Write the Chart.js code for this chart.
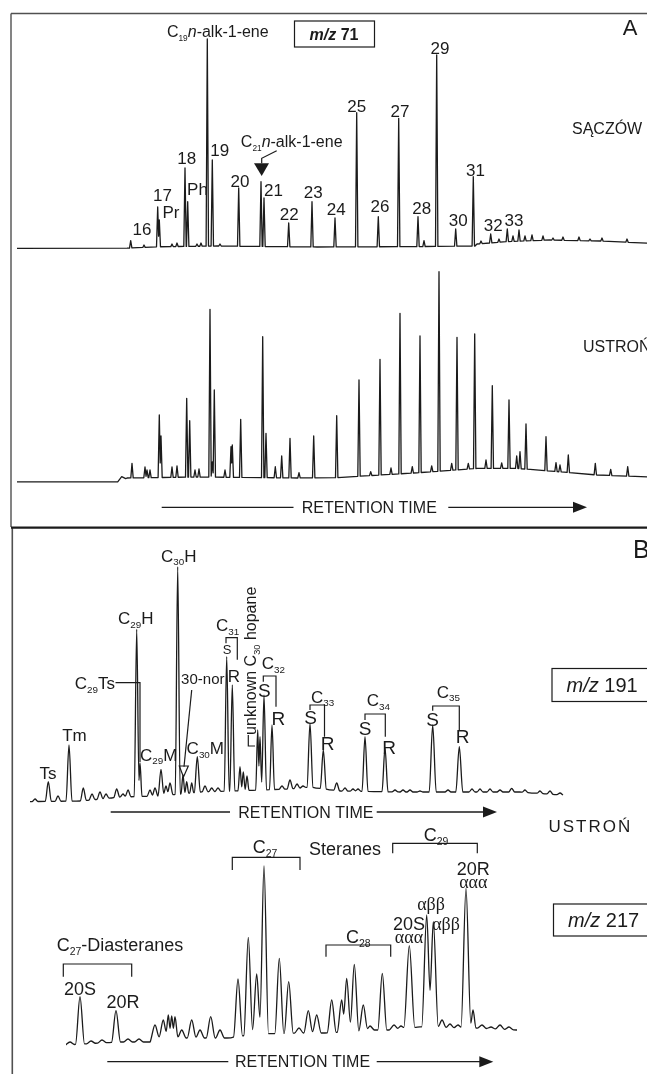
<!DOCTYPE html>
<html>
<head>
<meta charset="utf-8">
<script src="https://cdn.jsdelivr.net/npm/chart.js@4.4.1/dist/chart.umd.min.js"></script>
<style>
  html, body { margin: 0; padding: 0; background: #fff; }
  #wrap { position: relative; width: 647px; height: 1074px; overflow: hidden; }
  #wrap canvas { position: absolute; left: 0; top: 0; }
</style>
</head>
<body>
<div id="wrap">
  <canvas id="a1" width="647" height="1074"></canvas>
  <canvas id="a2" width="647" height="1074"></canvas>
  <canvas id="b1" width="647" height="1074"></canvas>
  <canvas id="b2" width="647" height="1074"></canvas>
</div>
<script>
// --- data: [retention, intensity, (optional peak half-width)] ---
// A, m/z 71, SĄCZÓW
var saczowPeaks = [
  [11.37, 4.65], [12.7, 2.5], [14.07, 21.5], [14.23, 15], [15.5, 3], [16.0, 3.5],
  [16.8, 41], [17.07, 24.15], [18.0, 3], [18.4, 3.5], [19.03, 105.5], [19.53, 45],
  [20.3, 3], [22.17, 31], [24.4, 34.15], [24.7, 26], [27.17, 13.5], [29.5, 24.15],
  [31.8, 16], [33.97, 68.65], [36.13, 16.65], [38.17, 65.85], [40.1, 16.65], [40.7, 4.65],
  [41.97, 97.5], [43.87, 10.5], [45.63, 36.65], [46.4, 4.5], [47.37, 8], [48.2, 5.5], [49.03, 10.5],
  [49.6, 7], [50.2, 10], [50.8, 7], [51.5, 7.5], [52.6, 7], [53.6, 6], [54.6, 6.5], [56.2, 6.5],
  [57.3, 5.5], [58.5, 6], [61, 5.5]
];
var saczowBase = [[0, 0.8], [11, 0.9], [14, 1.6], [20, 2.0], [30, 1.5], [40, 1.7], [45.8, 2],
  [46, 3], [49, 4.2], [53.3, 5], [58.3, 4.5], [63, 3.4]];

// A, m/z 71, USTROŃ
var ustronPeaks = [
  [10.47, 3.65, 0.4], [11.5, 10.35], [12.8, 8.5], [13.0, 7], [13.3, 7], [14.23, 34.5], [14.4, 24],
  [15.5, 8.5], [16.0, 9], [16.97, 42.85], [17.27, 31.65], [17.8, 7], [18.2, 7.5], [19.3, 87.35],
  [19.53, 11], [19.73, 47], [20.8, 7], [21.4, 18.65], [21.53, 19.5], [22.37, 32.35], [24.57, 73.65],
  [24.9, 25.35], [25.83, 8.65], [26.47, 14], [27.3, 22.85], [28.2, 5.65], [29.67, 24], [31.97, 34.15],
  [34.2, 52], [35.37, 6.15], [36.3, 62.35], [37.4, 8], [38.3, 85.35], [39.53, 8.65], [40.3, 74],
  [41.47, 9], [42.2, 106.15], [43.47, 10.35], [44.0, 73.35], [45.13, 10.35], [45.77, 75], [46.9, 12],
  [47.53, 49.15], [48.47, 10.5], [49.2, 42], [49.97, 14], [50.3, 16.15], [50.9, 30], [52.9, 23.65],
  [53.9, 10.65], [54.3, 9.5], [55.13, 14.5], [57.83, 10.35], [59.37, 7.35], [61.07, 8.65]
];
var ustronBase = [[0, 1.1], [10.3, 1.1], [11, 3], [18, 3.5], [28, 3], [32, 3.2], [40, 5.6],
  [46, 7.8], [50, 7.8], [54, 6.2], [58, 4.5], [63, 3.6]];

// B, m/z 191, hopanes
var hopanePeaks = [
  [0.5, 2.5], [1.83, 11.15], [2.8, 4], [3.9, 29.5], [5.33, 8], [6.2, 5], [7.0, 6], [7.6, 5],
  [8.67, 7.5], [9.3, 5], [9.8, 7], [10.67, 87.35, 0.25], [11.0, 20.5, 0.2], [12.0, 7], [12.5, 8],
  [13.1, 17.35], [13.6, 9], [14.0, 10.5], [14.77, 118.65, 0.25], [15.3, 14.5, 0.2],
  [15.67, 11.15, 0.2], [16.17, 10.5, 0.2], [16.73, 23.65], [17.5, 9], [18.17, 8], [18.8, 8],
  [19.67, 73.65, 0.25], [20.23, 59.5, 0.25], [21.0, 18.65, 0.2], [21.33, 16, 0.2], [21.7, 14, 0.2],
  [22.77, 37, 0.2], [23.0, 33.65, 0.2], [23.4, 54.5, 0.25], [24.2, 39.5, 0.25], [25.2, 9],
  [26.0, 12], [26.7, 10], [27.3, 9], [28.0, 40.35], [29.33, 27], [30.67, 10.5], [31.5, 8],
  [32.3, 7.5], [32.8, 7.5], [33.5, 33.65], [35.5, 28], [36.5, 7], [37.3, 7], [38.0, 7], [39.0, 6.5],
  [40.27, 39.5, 0.35], [41.8, 7], [42.93, 28.65, 0.35], [44.2, 7.5], [45.0, 7.5], [46.0, 7.5],
  [47.0, 7], [48.17, 7.85], [49.5, 7], [51.0, 6.5], [52.0, 6.5], [53.0, 5.5]
];
var hopaneBase = [[0, 1.2], [5, 1.5], [9, 3.5], [13, 4], [17, 6], [23, 7], [26, 7.5], [28, 8.5],
  [31, 6.5], [37, 6], [44, 6], [49, 6], [53.2, 4.5]];

// B, m/z 217, steranes
var steranePeaks = [
  [0.4, 2], [1.4, 24.65], [2.5, 2.5], [3.6, 3], [5.0, 17.65], [6.2, 3.5], [7.3, 3.5], [8.9, 10.5],
  [9.73, 13], [10.23, 15.5, 0.3], [10.57, 15, 0.3], [10.9, 14.65, 0.3], [11.57, 8], [12.57, 13],
  [13.4, 8], [14.47, 14.65], [15.4, 8], [17.2, 33.5], [18.23, 54.35], [19.07, 36], [19.8, 90],
  [21.33, 43.85], [22.27, 32.15], [23.3, 9], [24.23, 17.65], [25.07, 15.5], [26.57, 23], [27.57, 23],
  [28.07, 33.85], [28.83, 40.85], [29.73, 20.5], [30.4, 10], [31.63, 36.35], [32.8, 10.5], [33.5, 10],
  [34.33, 50.15, 0.55], [36.07, 65.5, 0.5], [36.73, 62.15, 0.5], [37.6, 13], [38.4, 11], [39.2, 10.5],
  [40.0, 78.85, 0.5], [40.7, 18, 0.3], [41.6, 10.5], [42.5, 9.5], [43.4, 10.5], [44.3, 9.5]
];
var steraneBase = [[0, 0.5], [3.4, 1.5], [5.5, 2], [8.4, 2], [8.6, 4], [16.1, 4], [19, 6], [23, 6.5],
  [25.9, 6.5], [30.7, 8], [32.2, 8], [35.4, 9.6], [38, 9], [41, 9], [45.1, 8]];

var FONT = '"Liberation Sans", Arial, sans-serif';
var SERIF = '"Liberation Serif", "Times New Roman", serif';
var INK = '#1b1b1b';

// peak labels, brackets and leader lines, in data units of each chart
var NOTES = {
  a1: {
    size: 17,
    labels: [
      ['16', 12.5, 10.5], ['17', 14.55, 27.5], ['Pr', 15.4, 19.15], ['18', 16.97, 45.85],
      ['Ph', 18.05, 30.5], ['19', 20.27, 50.15], ['20', 22.3, 34.75], ['21', 25.65, 30],
      ['22', 27.23, 18.15], ['23', 29.63, 29], ['24', 31.93, 20.35], ['25', 33.97, 72],
      ['26', 36.3, 21.85], ['27', 38.3, 69.4], ['28', 40.47, 20.85], ['29', 42.3, 101.25],
      ['30', 44.13, 15], ['31', 45.85, 40.15], ['32', 47.63, 12.5], ['33', 49.7, 15],
      ['C_{19}*n*-alk-1-ene', 20.08, 109.15, {size: 16, sub: 0.52}],
      ['C_{21}*n*-alk-1-ene', 27.47, 54.15, {size: 16, sub: 0.52}]
    ],
    paths: [
      {pts: [[25.97, 49.65], [24.47, 45.85], [24.47, 43.35]]},
      {pts: [[23.7, 43.35], [25.2, 43.35], [24.47, 37]], fill: true}
    ]
  },
  a2: {labels: []},
  b1: {
    size: 17,
    labels: [
      ['Ts', 1.8, 15.65], ['Tm', 4.45, 34.5], ['C_{29}H', 10.57, 92.85],
      ['C_{29}Ts', 8.5, 60.5, {align: 'right'}], ['C_{29}M', 12.87, 24.75], ['C_{30}H', 14.88, 124.25],
      ['30-nor', 17.28, 62.75, {size: 15}], ['C_{30}M', 17.53, 27.85],
      ['C_{31}', 19.77, 89.5], ['S', 19.7, 77.25, {size: 13}], ['R', 20.38, 64.25],
      ['unknown C_{30} hopane', 22.07, 71.6, {size: 16, rot: true}],
      ['C_{32}', 24.33, 70.35], ['S', 23.43, 57, {size: 19}], ['R', 24.83, 43.1, {size: 19}],
      ['C_{33}', 29.25, 53.65], ['S', 28.05, 43.25, {size: 19}], ['R', 29.75, 30.35, {size: 19}],
      ['C_{34}', 34.83, 51.85], ['S', 33.52, 38, {size: 19}], ['R', 35.92, 28.65, {size: 19}],
      ['C_{35}', 41.83, 56.15], ['S', 40.25, 42.5, {size: 19}], ['R', 43.25, 33.85, {size: 19}]
    ],
    brackets: [
      [19.6, 20.73, 83.15, 5.6, 22], [23.33, 24.6, 64, 5.7, 30.7], [28.0, 29.45, 49.5, 5, 31.7],
      [33.5, 35.53, 45, 6, 22.7], [40.27, 42.93, 49, 4.7, 24]
    ],
    paths: [
      {pts: [[8.55, 60.65], [11.0, 60.65], [11.0, 21]]},
      {pts: [[16.17, 57], [15.4, 18.65]]},
      {pts: [[14.93, 19], [15.83, 19], [15.35, 13.5]], closed: true},
      {pts: [[21.83, 34.5], [21.83, 29], [22.5, 29]]}
    ]
  },
  b2: {
    size: 18,
    labels: [
      ['C_{27}-Diasteranes', 5.4, 50.5], ['20S', 1.4, 28.85], ['20R', 5.7, 22.15],
      ['C_{27}', 19.9, 99.65], ['Steranes', 27.9, 98.85], ['C_{29}', 37, 105.5], ['C_{28}', 29.23, 54.65],
      ['20S', 34.3, 61.35], ['ααα', 34.3, 54.65, {serif: true}],
      ['αββ', 36.5, 71.35, {serif: true}], ['αββ', 38, 61, {serif: true}],
      ['20R', 40.73, 88.85], ['ααα', 40.73, 82.15, {serif: true}]
    ],
    brackets: [
      [-0.27, 6.57, 41, 12.7, 12.7], [16.63, 23.4, 94.35, 12.7, 12.7],
      [32.67, 41.13, 101.35, 10, 10], [26.0, 32.47, 50.5, 11.7, 11.7]
    ]
  }
};

function cross(a, b, c, d) {
  var s1 = (b.y - a.y) / (b.x - a.x), s2 = (d.y - c.y) / (d.x - c.x);
  var x = (c.y - s2 * c.x - a.y + s1 * a.x) / (s1 - s2);
  return {x: x, y: a.y + s1 * (x - a.x)};
}

// trace = baseline knots + a narrow triangle for every peak
function buildTrace(peaks, base, w) {
  function level(x) {
    for (var i = 1; i < base.length; i++) {
      if (x <= base[i][0]) {
        var a = base[i - 1], b = base[i];
        return a[1] + (b[1] - a[1]) * (x - a[0]) / (b[0] - a[0]);
      }
    }
    return base[base.length - 1][1];
  }
  var pts = [], bi = 0, prev = null;
  peaks.forEach(function (p) {
    var hw = p[2] || w, l = p[0] - hw, r = p[0] + hw;
    while (bi < base.length && base[bi][0] < l) {
      if (!pts.length || base[bi][0] > pts[pts.length - 1].x) pts.push({x: base[bi][0], y: base[bi][1]});
      bi++;
    }
    var foot = {x: l, y: level(l)}, apex = {x: p[0], y: p[1]};
    if (prev && prev.foot.x > l) {
      pts[pts.length - 1] = cross(prev.apex, prev.foot, foot, apex);
    } else {
      pts.push(foot);
    }
    pts.push(apex);
    var rf = {x: r, y: level(r)};
    pts.push(rf);
    prev = {apex: apex, foot: rf};
  });
  while (bi < base.length) {
    if (base[bi][0] > pts[pts.length - 1].x) pts.push({x: base[bi][0], y: base[bi][1]});
    bi++;
  }
  return pts;
}

function parseRich(s) {
  var out = [], re = /_\{([^}]*)\}|\*([^*]*)\*|([^_*]+)/g, m;
  while ((m = re.exec(s))) {
    if (m[1] !== undefined) out.push({t: m[1], sub: true});
    else if (m[2] !== undefined) out.push({t: m[2], it: true});
    else out.push({t: m[3]});
  }
  return out;
}

function drawRich(ctx, str, x, y, size, opt) {
  opt = opt || {};
  var segs = parseRich(str), w = 0;
  var fam = opt.serif ? SERIF : FONT, wt = opt.bold ? 'bold ' : '', sub = opt.sub || 0.58;
  function font(sg) {
    return ((sg.it || opt.italic) ? 'italic ' : '') + wt + (sg.sub ? size * sub : size) + 'px ' + fam;
  }
  ctx.letterSpacing = (opt.ls || 0) + 'px';
  segs.forEach(function (sg) { ctx.font = font(sg); sg.w = ctx.measureText(sg.t).width; w += sg.w; });
  var x0 = opt.align === 'right' ? x - w : opt.align === 'left' ? x : x - w / 2;
  var base = y + size * 0.36;
  ctx.textAlign = 'left';
  ctx.textBaseline = 'alphabetic';
  segs.forEach(function (sg) {
    ctx.font = font(sg);
    ctx.fillText(sg.t, x0, sg.sub ? base + size * 0.2 : base);
    x0 += sg.w;
  });
  ctx.letterSpacing = '0px';
}

var notesPlugin = {
  id: 'peakNotes',
  afterDatasetsDraw: function (chart) {
    var o = NOTES[chart.canvas.id];
    if (!o) return;
    var ctx = chart.ctx, X = chart.scales.x, Y = chart.scales.y;
    function px(v) { return X.getPixelForValue(v); }
    function py(v) { return Y.getPixelForValue(v); }
    ctx.save();
    ctx.fillStyle = INK;
    ctx.strokeStyle = INK;
    ctx.lineWidth = 1.2;
    (o.brackets || []).forEach(function (b) {
      var x1 = px(b[0]), x2 = px(b[1]), y = py(b[2]);
      ctx.beginPath();
      ctx.moveTo(x1, y + b[3]);
      ctx.lineTo(x1, y);
      ctx.lineTo(x2, y);
      ctx.lineTo(x2, y + b[4]);
      ctx.stroke();
    });
    (o.paths || []).forEach(function (p) {
      ctx.beginPath();
      p.pts.forEach(function (q, i) {
        if (i === 0) ctx.moveTo(px(q[0]), py(q[1])); else ctx.lineTo(px(q[0]), py(q[1]));
      });
      if (p.closed || p.fill) ctx.closePath();
      if (p.fill) ctx.fill(); else ctx.stroke();
    });
    (o.labels || []).forEach(function (l) {
      var opt = l[3] || {}, size = opt.size || o.size;
      if (opt.rot) {
        ctx.save();
        ctx.translate(px(l[1]), py(l[2]));
        ctx.rotate(-Math.PI / 2);
        drawRich(ctx, l[0], 0, 0, size, opt);
        ctx.restore();
      } else {
        drawRich(ctx, l[0], px(l[1]), py(l[2]), size, opt);
      }
    });
    ctx.restore();
  }
};

function seg(c, pts) {
  c.beginPath();
  pts.forEach(function (p, i) { if (i === 0) c.moveTo(p[0], p[1]); else c.lineTo(p[0], p[1]); });
  c.stroke();
}

function timeArrow(c, y, x0, x1, tx, x2, tip) {
  c.lineWidth = 1.3;
  seg(c, [[x0, y], [x1, y]]);
  seg(c, [[x2, y], [tip - 12, y]]);
  c.beginPath();
  c.moveTo(tip - 14, y - 5.5);
  c.lineTo(tip, y);
  c.lineTo(tip - 14, y + 5.5);
  c.closePath();
  c.fill();
  drawRich(c, 'RETENTION TIME', tx, y, 16, {align: 'left'});
}

// frames, panel letters, ion boxes and the retention-time arrows
var figurePlugin = {
  id: 'figure',
  afterDraw: function (chart) {
    var c = chart.ctx;
    c.save();
    c.fillStyle = INK;
    c.strokeStyle = '#505050';
    c.lineWidth = 1.4;
    seg(c, [[11, 13.5], [647, 13.5]]);
    seg(c, [[11, 13.5], [11, 527]]);
    c.lineWidth = 1.6;
    seg(c, [[12.3, 527], [12.3, 1074]]);
    c.strokeStyle = INK;
    c.lineWidth = 2.4;
    seg(c, [[11, 527.6], [647, 527.6]]);

    drawRich(c, 'A', 630, 27.5, 22);
    drawRich(c, 'B', 633, 549, 25, {align: 'left'});

    c.lineWidth = 1.2;
    c.strokeRect(294.5, 21, 80, 26);
    drawRich(c, '*m/z* 71', 334, 34, 16, {bold: true});
    c.strokeRect(552, 668.5, 100, 33);
    drawRich(c, '*m/z* 191', 566.5, 685, 20, {align: 'left'});
    c.strokeRect(553.5, 904, 100, 32);
    drawRich(c, '*m/z* 217', 568, 920, 20, {align: 'left'});

    drawRich(c, 'SĄCZÓW', 572, 128, 16, {align: 'left'});
    drawRich(c, 'USTROŃ', 583, 346, 16, {align: 'left'});
    drawRich(c, 'USTROŃ', 548.5, 826, 17, {align: 'left', ls: 2});

    c.strokeStyle = INK;
    timeArrow(c, 507.3, 161.7, 293.5, 301.7, 448.3, 587);
    timeArrow(c, 812, 110.7, 230, 238.3, 376.7, 497);
    timeArrow(c, 1061.7, 107.3, 228.3, 235, 376.7, 493.3);
    c.restore();
  }
};

function makeChart(id, peaks, base, w, pad, xMax, yMax, smooth, extra) {
  return new Chart(document.getElementById(id), {
    type: 'line',
    data: {
      datasets: [{
        data: buildTrace(peaks, base, w),
        borderColor: INK,
        borderWidth: 1.3,
        borderJoinStyle: 'round',
        pointRadius: 0,
        tension: 0,
        cubicInterpolationMode: smooth ? 'monotone' : 'default',
        fill: false
      }]
    },
    options: {
      responsive: false,
      animation: false,
      events: [],
      layout: {padding: pad},
      plugins: {legend: {display: false}, tooltip: {enabled: false}, title: {display: false}},
      scales: {
        x: {type: 'linear', min: 0, max: xMax, display: false},
        y: {type: 'linear', min: 0, max: yMax, display: false}
      }
    },
    plugins: [notesPlugin].concat(extra || [])
  });
}

makeChart('a1', saczowPeaks, saczowBase, 0.12, {left: 17, right: 0, top: 30, bottom: 824}, 63, 110, false, [figurePlugin]);
makeChart('a2', ustronPeaks, ustronBase, 0.12, {left: 17, right: 0, top: 264, bottom: 590}, 63, 110, false);
makeChart('b1', hopanePeaks, hopaneBase, 0.3, {left: 30, right: 77, top: 554, bottom: 270}, 54, 125, true);
makeChart('b2', steranePeaks, steraneBase, 0.45, {left: 66, right: 121, top: 846, bottom: 28}, 46, 100, true);
</script>
</body>
</html>
